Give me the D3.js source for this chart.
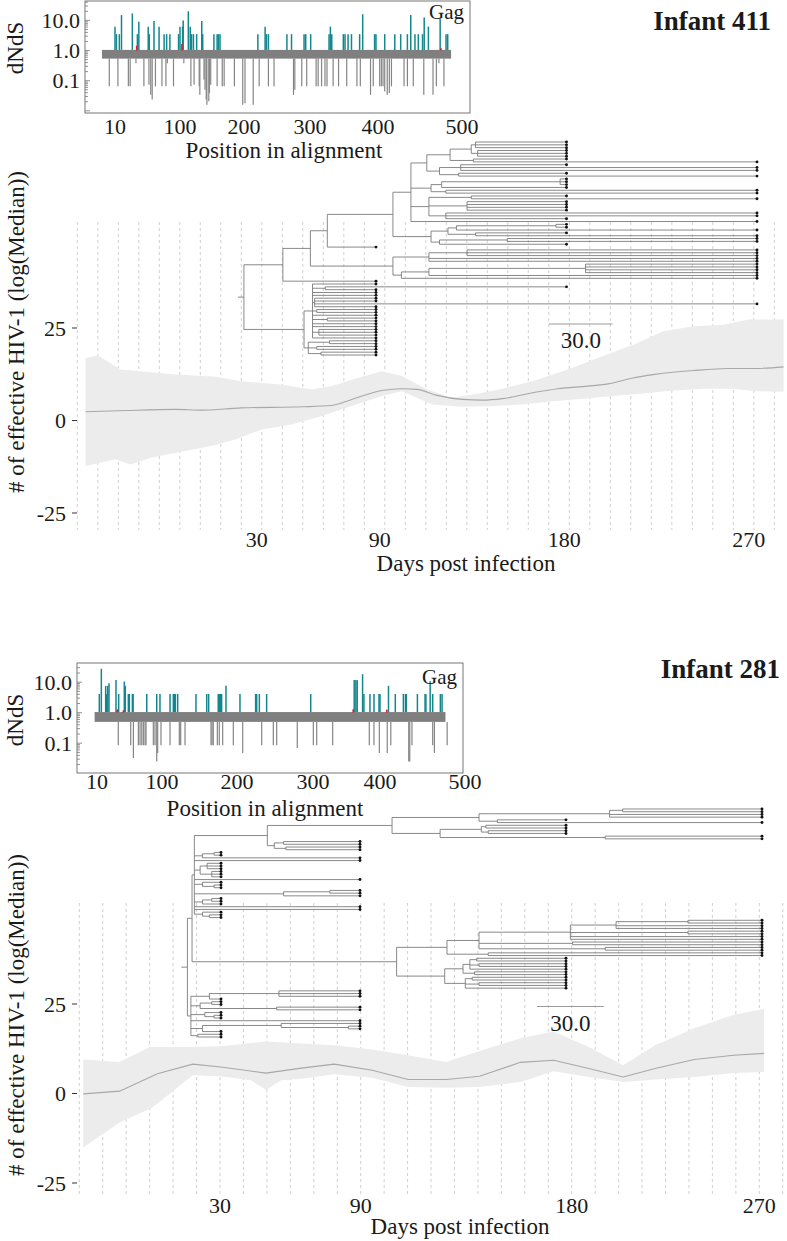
<!DOCTYPE html>
<html><head><meta charset="utf-8">
<script src="https://cdn.jsdelivr.net/npm/d3@7"></script>
<style>
body{margin:0;background:#fff}
svg{display:block}
text{font-family:"Liberation Serif","Times New Roman",serif;fill:#1a1a1a}
</style>
</head><body>
<svg id="c" width="787" height="1241"></svg>
<script>
// ---------------- shared tick labels ----------------
const dayTickLabels = [30, 90, 180, 270];
const effTickLabels = [25, 0, -25];
const posTickLabels = [10, 100, 200, 300, 400, 500];
const dndsTickLabels = [10, 1, 0.1];

// ---------------- Infant 411 : dN/dS inset ----------------
// [position in alignment, dN/dS]
const dnds411Up = [[10,6.2],[12,3.5],[16,3.5],[19,15],[34,17],[41,3.5],[43,9],[56,6.2],[57.5,3.5],[64,9.5],
 [71,6.2],[78,3.5],[81.5,3.5],[86,3.5],[98,3.5],[100,6.2],[104,6.2],[105,10],[113,20],[116,6.2],
 [118,3.5],[121,3.5],[126,3.5],[134,9.5],[135.5,3.5],[153,3.5],[158,3.5],[160,3.5],[162.5,3.5],[221,3.5],
 [232,6.2],[234,3.5],[237,3.5],[265,3.5],[272,3.5],[291,3.5],[293.5,3.5],[301,3.5],[328,3.5],[330,6.2],
 [332,3.5],[349,3.5],[351.5,3.5],[356,3.5],[361,3.5],[373,3.5],[377.5,16],[395,3.5],[397,3.5],[408,3.5],
 [420,3.5],[427,3.5],[435,3.5],[439,15],[444,3.5],[448,3.5],[453,3.5],[455,12.5],[460,6.2],[474,11.5],
 [481,3.5],[483,3.5]];
const dnds411Red = [[40,1.45],[103,1.65],[475,1.2]];
const dnds411Down = [[5.6,0.065],[14,0.065],[28.5,0.065],[31,0.065],[39,0.38],[50,0.065],[57,0.074],[59.5,0.034],[61.5,0.024],[66,0.065],
 [75,0.065],[80.5,0.065],[82.5,0.38],[91,0.065],[106,0.38],[117,0.065],[122,0.074],[130,0.065],[131,0.034],[137.5,0.11],
 [139,0.05],[141,0.024],[142,0.016],[145,0.021],[146,0.039],[148,0.074],[158,0.065],[166,0.065],[169,0.065],[185,0.065],
 [198,0.016],[201.5,0.018],[214,0.016],[223,0.065],[237,0.065],[245.5,0.065],[275,0.034],[277,0.05],[287.5,0.065],[295,0.065],
 [309,0.065],[312,0.065],[317,0.065],[322,0.065],[325,0.065],[334,0.065],[342,0.065],[354,0.065],[369,0.065],[374,0.065],
 [389,0.034],[393,0.065],[402,0.065],[404,0.065],[406,0.065],[408,0.044],[411,0.034],[413.5,0.039],[416,0.065],[431,0.065],
 [435,0.065],[442,0.065],[454.5,0.034],[465.5,0.034],[469.5,0.065],[472.5,0.38],[478.5,0.065]];
const dnds411Band = [0, 487];

// ---------------- Infant 281 : dN/dS inset ----------------
const dnds281Up = [[13.2,4.1],[16,27.5],[22,7.6],[23.4,4.1],[24.8,7.6],[26.6,9.3],[36.3,11.9],[40,4.1],[47.8,10.5],[49.2,7.6],
 [53.4,4.1],[54.8,4.1],[59,4.1],[60,4.1],[78.9,4.1],[92.7,4.1],[97.2,4.1],[110.7,4.1],[115.1,4.1],[116.4,4.1],
 [117.8,4.1],[120.9,4.1],[145.3,4.1],[159.6,4.1],[162.2,4.1],[175,4.1],[176.4,4.1],[177.7,4.1],[179.5,4.1],[185.3,7.6],
 [203.9,4.1],[224.5,4.1],[225.9,4.1],[229.4,4.1],[239,4.1],[297,4.1],[361.5,11.9],[364,11.9],[366,11.5],[374,18.3],
 [376,4.1],[385,4.1],[391,4.1],[398.5,4.1],[400,4.1],[410,7.6],[418,4.1],[427.5,4.1],[430,4.1],[431,4.1],
 [444,4.1],[453,4.1],[454,4.1],[459,10.8],[462,4.1],[471,4.1],[473,4.1]];
const dnds281Red = [[38,1.29],[46.5,1.2],[360,1.29],[408,1.25]];
const dnds281Down = [[39.5,0.086],[56.7,0.086],[60.4,0.033],[67.3,0.086],[69.6,0.086],[72,0.086],[74.2,0.086],[76.5,0.086],[77.9,0.086],[88,0.086],
 [90.3,0.086],[92.7,0.025],[94,0.048],[98.6,0.086],[110.7,0.086],[123.1,0.086],[124.9,0.086],[130.7,0.086],[165.3,0.086],[166.7,0.086],
 [168.4,0.086],[173.8,0.086],[176.4,0.086],[180.9,0.086],[195.1,0.086],[207.5,0.048],[232.5,0.086],[247.8,0.086],[252.2,0.086],[279.3,0.07],
 [300.5,0.086],[305.5,0.086],[329.4,0.086],[384,0.086],[391,0.086],[399,0.048],[408.5,0.048],[412.7,0.086],[433.8,0.025],[435,0.025],
 [437.6,0.086],[462,0.086],[464,0.048],[479,0.086]];
const dnds281Band = [6, 477];

// ---------------- effective population (day, value) ----------------
const median411 = [[-53.5,2.35],[-33.9,2.7],[-9.4,3.0],[2.8,2.8],[22.4,3.4],[51.9,3.7],[66.6,4.05],[76.4,5.7],[91.1,8.1],[100.9,8.6],
 [108.2,8.4],[118,6.8],[130.3,5.7],[140.1,5.5],[149.9,5.9],[164.6,7.5],[176.9,8.6],[191.6,9.3],[201.4,9.9],[213.6,11.5],
 [223.4,12.4],[243,13.5],[260.2,14.05],[272.4,14.05],[287,14.5]];
const upper411 = [[-53.5,16.9],[-47.4,17.6],[-36.4,13.8],[-26.6,13.3],[-9.4,12.4],[10.2,11.8],[22.4,10.6],[42.1,9.7],[56.8,8.4],[66.6,9.3],
 [81.3,11.8],[91.1,13.3],[100.9,12.0],[113.2,8.4],[125.4,6.1],[140.1,7.5],[149.9,8.6],[164.6,10.6],[181.8,13.8],[199,17.4],
 [213.7,20.5],[228.4,24.1],[243,25.5],[257.8,25.9],[270,27.3],[287,27.3]];
const lower411 = [[-53.5,-12.3],[-38.8,-10.5],[-31.5,-11.9],[-21.7,-10.1],[-9.4,-8.7],[7.8,-6.9],[20,-5.1],[32.3,-2.4],[47,-1.1],[61.7,1.2],
 [76.4,3.9],[91.1,6.6],[100.9,7.9],[115.6,4.3],[130.3,3.7],[145,3.9],[159.7,4.3],[174.4,5.2],[189.1,5.9],[203.9,6.6],
 [218.6,7.3],[233.3,8.1],[248,8.6],[262.7,8.6],[273.7,7.9],[287,7.8]];

const median281 = [[-28.3,-0.1],[-12.8,0.65],[3.3,5.5],[18.4,8.2],[30.3,7.4],[49.6,5.7],[64.7,7.1],[78.7,8.2],[94.9,6.5],[110.2,3.9],
 [126.5,3.9],[140.7,4.8],[158.1,8.7],[172.3,9.3],[188.2,7.0],[204.7,4.6],[220,7.0],[238.8,9.5],[257.7,10.7],[272.3,11.2]];
const upper281 = [[-28.3,9.5],[-12.8,8.8],[0.1,13.0],[18.4,13.0],[30.3,13.2],[49.6,14.5],[64.7,14.0],[78.7,13.5],[94.9,12.3],[110.2,10.7],
 [126.5,8.8],[140.7,11.9],[158.1,15.4],[172.3,17.3],[188.2,13.0],[204.7,7.9],[220,13.5],[238.8,18.2],[257.7,22.0],[272.3,23.6]];
const lower281 = [[-28.3,-15.1],[-12.8,-8.1],[1.2,-3.9],[18.4,5.1],[30.3,4.8],[43.2,3.7],[49.6,1.0],[56.1,3.7],[64.7,4.1],[78.7,5.4],
 [94.9,4.4],[110.2,1.8],[126.5,1.6],[140.7,1.8],[158.1,3.2],[172.3,6.2],[188.2,4.6],[204.7,3.2],[220,3.9],[238.8,4.6],
 [257.7,5.7],[272.3,6.0]];

// ---------------- time-scaled trees: [node day, children...], tips = sampling day ----------------
const t411X = [106.5,
  [114, [125, [135, [137,180,180,180], [138,180,180,180]], [136,180,270]], [120, [130,180,270,270], [129,180,270]]],
  [116, [121, [177,180,180,180], 180], [123,270,270]],
  [115, [135,180,270], [133,180,180,180,180], [123,270,270,180]],
  270];
const t411Y = [116, [124, [128, [175,180,180], 270], [137,180,270]], [120, [152,270,270], 180]];
const t411Z = [98, [115, [133,270,270,270], 270, 270], [102, [115, [189,270,270,270,270], 270], 270]];
const t411Low = [56,
  [60, 90, [66,180,90], 90, 90, [61,90,90,270,90], [62,90,90], 90, [67,90,90], 90, 90, [63,90,90,90], 90],
  [58, [68,90,90], [62,90,90], [64,90,90]]];
const tree411 = [27.6, [46, [59, [67, [98, t411X, t411Y], 90], t411Z], 90], t411Low];

const t281U = [50,
  [104, [142, [146, [200, [206,270,270], 270, 270]], [150,180,270]],
        [125, [143, [145,180,180], [146,180,180]], [144, [198,270,270]]]],
  [53, [57,90,90], [58,90,90]]];
const t281M = [18.5, t281U, [22, [27,30,30], 90], 90, [21, [24,30,30,30], [26,30,30,30]], 90,
  [22, 30, [27,30,30]], [57, [77,90,90], 90], [22, [26,30,30], 30], 90, 90, [22, 30, [25,30,30]]];
const t281L = [106,
  [128, [142, [182, [203, [236,270,270], 270, 270], [236,270,270], 270, 270], [183,270,270], [198,270,270]], [146,270,270]],
  [127, [135, [138, [141,180,180], [142,180,180], 180], [140,180,180]], [136, [139,180,180], [142,180,180], 180]]];
const t281B = [17, [25, [55,90,90,90], 30], [21, [26,30,30], [54,90,90]], [23, 30, [27,30,30]], 90,
  [22, [56, 90, [85,90,90]], 30], [20, 30, 30]];
const tree281 = [15.5, [17.5, t281M, t281L], t281B];

// ================= drawing =================
const svg = d3.select('#c');
const FS = 22;

function drawInset(o) {
  const g = svg.append('g');
  const x = o.x, y = o.y;
  const [bx, by, bw, bh] = o.box;
  g.append('rect').attr('x', x(o.band[0])).attr('width', x(o.band[1]) - x(o.band[0]))
    .attr('y', y(1.05)).attr('height', y(o.bandLo) - y(1.05)).attr('fill', '#7f7f7f');
  g.selectAll(null).data(o.down).join('line')
    .attr('x1', d => x(d[0])).attr('x2', d => x(d[0]))
    .attr('y1', y(o.bandLo)).attr('y2', d => y(d[1]))
    .attr('stroke', '#858585').attr('stroke-width', 1.2);
  g.selectAll(null).data(o.up).join('line')
    .attr('x1', d => x(d[0])).attr('x2', d => x(d[0]))
    .attr('y1', y(1.05)).attr('y2', d => y(d[1]))
    .attr('stroke', '#14868d').attr('stroke-width', 1.5);
  g.selectAll(null).data(o.red).join('line')
    .attr('x1', d => x(d[0])).attr('x2', d => x(d[0]))
    .attr('y1', y(1.0)).attr('y2', d => y(d[1]))
    .attr('stroke', '#d9202a').attr('stroke-width', 1.6);
  g.append('rect').attr('x', bx).attr('y', by).attr('width', bw).attr('height', bh)
    .attr('fill', 'none').attr('stroke', '#777').attr('stroke-width', 1);
  const minors = [];
  [0.01, 0.1, 1, 10].forEach(dec => { for (let k = 1; k < 10; k++) minors.push(dec * k); });
  g.selectAll(null).data(minors.filter(v => y(v) > by + 1 && y(v) < by + bh - 1)).join('line')
    .attr('x1', bx).attr('x2', d => bx + ((Math.abs(Math.log10(d) - Math.round(Math.log10(d))) < 1e-9) ? 5 : 3))
    .attr('y1', d => y(d)).attr('y2', d => y(d)).attr('stroke', '#777').attr('stroke-width', 0.8);
  g.selectAll(null).data(dndsTickLabels).join('text')
    .attr('x', bx - 5).attr('y', d => y(d)).attr('dy', '0.35em').attr('text-anchor', 'end')
    .attr('font-size', FS).text(d => d.toFixed(1));
  g.selectAll(null).data(posTickLabels).join('text')
    .attr('x', d => x(d)).attr('y', o.xLabY).attr('text-anchor', 'middle')
    .attr('font-size', FS).text(d => d);
  g.append('text').attr('x', o.xTitle[0]).attr('y', o.xTitle[1]).attr('text-anchor', 'middle')
    .attr('font-size', 23).text('Position in alignment');
  g.append('text').attr('transform', `translate(${o.yTitle[0]},${o.yTitle[1]}) rotate(-90)`)
    .attr('text-anchor', 'middle').attr('font-size', 23).text('dNdS');
  g.append('text').attr('x', bx + bw - 6).attr('y', o.gagY).attr('text-anchor', 'end')
    .attr('font-size', 21).text('Gag');
}

function drawMain(o) {
  const g = svg.append('g');
  const x = o.x, y = o.y;
  g.selectAll(null).data(o.grid).join('line')
    .attr('x1', d => x(d)).attr('x2', d => x(d)).attr('y1', o.gridTop).attr('y2', o.gridBottom)
    .attr('stroke', '#c4c4c4').attr('stroke-width', 0.8).attr('stroke-dasharray', '3,3');
  const pts = o.upper.map(d => [x(d[0]), y(d[1])]).concat(o.lower.slice().reverse().map(d => [x(d[0]), y(d[1])]));
  g.append('path').attr('d', d3.line()(pts) + 'Z').attr('fill', '#ececec').attr('stroke', 'none');
  g.append('path').attr('d', d3.line().x(d => x(d[0])).y(d => y(d[1])).curve(o.curve)(o.median))
    .attr('fill', 'none').attr('stroke', '#a8a8a8').attr('stroke-width', 1.1);
  // tree
  const tx = o.treeX;
  const root = d3.hierarchy(o.tree, d => Array.isArray(d) ? d.slice(1) : null);
  root.each(n => { n.t = Array.isArray(n.data) ? n.data[0] : n.data; });
  const leaves = root.leaves();
  const ys = d3.scaleLinear().domain([0, leaves.length - 1]).range(o.treeY);
  leaves.forEach((l, i) => { l.y = ys(i); });
  root.eachAfter(n => { if (n.children) n.y = (n.children[0].y + n.children[n.children.length - 1].y) / 2; });
  const tg = g.append('g').attr('stroke', '#7c7c7c').attr('stroke-width', 0.9).attr('fill', 'none');
  root.descendants().forEach(n => {
    if (n.parent) tg.append('line').attr('x1', tx(n.parent.t)).attr('x2', tx(n.t)).attr('y1', n.y).attr('y2', n.y);
    if (n.children) tg.append('line').attr('x1', tx(n.t)).attr('x2', tx(n.t))
      .attr('y1', n.children[0].y).attr('y2', n.children[n.children.length - 1].y);
  });
  tg.append('line').attr('x1', tx(root.t) - 6).attr('x2', tx(root.t)).attr('y1', root.y).attr('y2', root.y);
  g.selectAll(null).data(leaves).join('circle')
    .attr('cx', d => tx(d.t)).attr('cy', d => d.y).attr('r', 1.45).attr('fill', '#111');
  const s0 = tx.invert(o.barX);
  g.append('line').attr('x1', tx(s0)).attr('x2', tx(s0 + 30)).attr('y1', o.barY).attr('y2', o.barY)
    .attr('stroke', '#9a9a9a').attr('stroke-width', 1);
  g.append('text').attr('x', (tx(s0) + tx(s0 + 30)) / 2).attr('y', o.barY + 24).attr('text-anchor', 'middle')
    .attr('font-size', 23).text('30.0');
  g.selectAll(null).data(effTickLabels).join('text')
    .attr('x', 66).attr('y', d => y(d)).attr('dy', '0.35em').attr('text-anchor', 'end')
    .attr('font-size', FS).text(d => d);
  g.selectAll(null).data(effTickLabels).join('line')
    .attr('x1', 72).attr('x2', 77).attr('y1', d => y(d)).attr('y2', d => y(d))
    .attr('stroke', '#333').attr('stroke-width', 1);
  g.append('text').attr('transform', `translate(${o.yTitle[0]},${o.yTitle[1]}) rotate(-90)`)
    .attr('text-anchor', 'middle').attr('font-size', 23).text(o.yTitleText);
  g.selectAll(null).data(dayTickLabels).join('text')
    .attr('x', d => x(d)).attr('y', o.xLabY).attr('text-anchor', 'middle')
    .attr('font-size', FS).text(d => d);
  g.append('text').attr('x', o.xTitle[0]).attr('y', o.xTitle[1]).attr('text-anchor', 'middle')
    .attr('font-size', 23).text('Days post infection');
  g.append('text').attr('x', o.name[0]).attr('y', o.name[1]).attr('text-anchor', 'end')
    .attr('font-size', 27).attr('font-weight', 'bold').text(o.nameText);
}

// ---- Infant 411 ----
drawMain({
  x: d3.scaleLinear().domain([30, 270]).range([256.7, 748.7]),
  y: d3.scaleLinear().domain([-25, 25]).range([513, 328]),
  grid: d3.range(-57.5, 283, 10), gridTop: 222, gridBottom: 530,
  upper: upper411, lower: lower411, median: median411, curve: d3.curveMonotoneX,
  tree: tree411, treeX: d3.scaleLinear().domain([90, 270]).range([376, 757]), treeY: [142, 355],
  barX: 549, barY: 324,
  yTitle: [24, 332], yTitleText: '# of effective HIV-1 (log(Median))',
  xLabY: 547, xTitle: [466, 571],
  name: [771, 30], nameText: 'Infant 411'
});
drawInset({
  x: d3.scaleLinear().domain([0, 10, 100, 200, 300, 400, 500]).range([102, 115, 180, 244, 310, 378, 462]),
  y: d3.scaleLog().domain([0.1, 10]).range([80.7, 20.4]),
  box: [85, 1, 385, 112], band: dnds411Band, bandLo: 0.54,
  up: dnds411Up, down: dnds411Down, red: dnds411Red,
  xLabY: 134, xTitle: [284, 158], yTitle: [23, 48], gagY: 19
});

// ---- Infant 281 ----
drawMain({
  x: d3.scaleLinear().domain([30, 90, 180, 270]).range([220, 360.7, 571.7, 759.3]),
  y: d3.scaleLinear().domain([-25, 25]).range([1183, 1004]),
  grid: d3.range(-30, 180, 10).concat(d3.range(180, 290, 11.25)), gridTop: 903, gridBottom: 1197,
  upper: upper281, lower: lower281, median: median281, curve: d3.curveLinear,
  tree: tree281, treeX: d3.scaleLinear().domain([30, 90, 180, 270]).range([221, 360, 566, 762]), treeY: [809, 1037],
  barX: 537, barY: 1006.5,
  yTitle: [24, 1015], yTitleText: '# of  effective HIV-1 (log(Median))',
  xLabY: 1213, xTitle: [460, 1234],
  name: [780, 678], nameText: 'Infant 281'
});
drawInset({
  x: d3.scaleLinear().domain([0, 10, 100, 200, 300, 400, 500]).range([91, 97, 162, 237, 313, 380, 465]),
  y: d3.scaleLog().domain([0.1, 10]).range([743.2, 682.2]),
  box: [77, 663, 386, 110], band: dnds281Band, bandLo: 0.5,
  up: dnds281Up, down: dnds281Down, red: dnds281Red,
  xLabY: 789, xTitle: [265, 816], yTitle: [23, 720], gagY: 684
});
</script>
</body></html>
